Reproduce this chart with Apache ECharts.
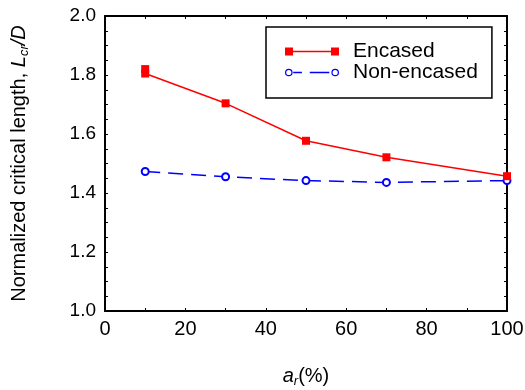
<!DOCTYPE html>
<html>
<head>
<meta charset="utf-8">
<script src="https://cdn.jsdelivr.net/npm/echarts@6/dist/echarts.min.js"></script>
<style>
  html, body { margin: 0; padding: 0; background: #fff; }
  #chart { width: 525px; height: 390px; }
</style>
</head>
<body>
<div id="chart"></div>
<script>
// area ratio a_r (%)
const arValues = [10, 30, 50, 70, 100];
// Normalized critical length Lcr/D
const encased = [1.805, 1.704, 1.577, 1.521, 1.457];
const encasedExtra = [10, 1.82]; // second marker at a_r = 10
const nonEncased = [1.473, 1.455, 1.442, 1.436, 1.442];
const xTicks = [0, 20, 40, 60, 80, 100];
const yTicks = [1.0, 1.2, 1.4, 1.6, 1.8, 2.0];

const font = 'Liberation Sans, Arial, sans-serif';
const chart = echarts.init(document.getElementById('chart'));

// legend icons: marker - line - marker, like the original
const iconEncased = 'path://M0 0h8v8h-8z M46 0h8v8h-8z M8 3.3h38v1.4h-38z';
const iconNonEncased = 'path://M1.3 4a3.7 3.7 0 1 0 7.4 0a3.7 3.7 0 1 0 -7.4 0z M2.5 4a2.5 2.5 0 1 1 5 0a2.5 2.5 0 1 1 -5 0z' +
  ' M9.3 3.3h8.4v1.4h-8.4z M25.3 3.3h19v1.4h-19z' +
  ' M46.3 4a3.7 3.7 0 1 0 7.4 0a3.7 3.7 0 1 0 -7.4 0z M47.5 4a2.5 2.5 0 1 1 5 0a2.5 2.5 0 1 1 -5 0z';

const axisCommon = {
  type: 'value',
  axisLine: { show: true, onZero: false, lineStyle: { color: '#000', width: 2 } },
  axisTick: { show: true, inside: true, length: 3, lineStyle: { color: '#000', width: 1 } },
  minorTick: { show: true, length: 3, lineStyle: { color: '#000', width: 1 } },
  splitLine: { show: false }
};

const richTitle = {
  i: { fontSize: 20, fontStyle: 'italic', fontFamily: font, color: '#000' },
  s: { fontSize: 13, fontStyle: 'italic', fontFamily: font, color: '#000', verticalAlign: 'bottom', padding: [10, 0, 0, 0] }
};

chart.setOption({
  animation: false,
  textStyle: { fontFamily: font },
  grid: { left: 105, right: 18, top: 16, bottom: 79, outerBoundsMode: 'none' },
  legend: {
    orient: 'vertical',
    left: 266,
    top: 27,
    padding: [14, 14, 15, 19],
    borderColor: '#000',
    borderWidth: 1.5,
    itemWidth: 54,
    itemHeight: 8,
    itemGap: 0,
    textStyle: { fontSize: 21, color: '#000', fontFamily: font, padding: [0, 0, 0, 9] },
    data: [
      { name: 'Encased', icon: iconEncased, itemStyle: { color: '#ff0000', borderWidth: 0 } },
      { name: 'Non-encased', icon: iconNonEncased, itemStyle: { color: '#0000ff', borderWidth: 0 } }
    ]
  },
  xAxis: [
    Object.assign({}, axisCommon, {
      min: xTicks[0], max: xTicks[xTicks.length - 1], interval: 20,
      minorTick: Object.assign({}, axisCommon.minorTick, { splitNumber: 2 }),
      axisLabel: { fontSize: 20, color: '#000', margin: 8 },
      name: '{i|a}{s|r}{n|(%)}',
      nameLocation: 'middle',
      nameGap: 54,
      nameTextStyle: {
        fontSize: 20, color: '#000',
        rich: Object.assign({ n: { fontSize: 20, fontFamily: font, color: '#000' } }, richTitle)
      }
    }),
    Object.assign({}, axisCommon, {
      position: 'top', min: 0, max: 100, interval: 20,
      minorTick: Object.assign({}, axisCommon.minorTick, { splitNumber: 2 }),
      axisLabel: { show: false }
    })
  ],
  yAxis: [
    Object.assign({}, axisCommon, {
      min: yTicks[0], max: yTicks[yTicks.length - 1], interval: 0.2,
      minorTick: Object.assign({}, axisCommon.minorTick, { splitNumber: 4 }),
      axisLabel: { fontSize: 19, color: '#000', margin: 9, formatter: v => v.toFixed(1) },
      name: '{n|Normalized critical length, }{i|L}{s|cr}{i|/D}',
      nameLocation: 'middle',
      nameGap: 74,
      nameTextStyle: {
        fontSize: 20, color: '#000',
        rich: Object.assign({ n: { fontSize: 20, fontFamily: font, color: '#000' } }, richTitle)
      }
    }),
    Object.assign({}, axisCommon, {
      position: 'right', min: 1.0, max: 2.0, interval: 0.2,
      minorTick: Object.assign({}, axisCommon.minorTick, { splitNumber: 4 }),
      axisLabel: { show: false }
    })
  ],
  series: [
    {
      name: 'Encased',
      type: 'line',
      data: [encasedExtra].concat(arValues.map((x, i) => [x, encased[i]])),
      symbol: 'rect',
      symbolSize: 8,
      itemStyle: { color: '#ff0000' },
      lineStyle: { color: '#ff0000', width: 1.5 },
      z: 3
    },
    {
      name: 'Non-encased',
      type: 'line',
      data: arValues.map((x, i) => [x, nonEncased[i]]),
      symbol: 'emptyCircle',
      symbolSize: 7,
      itemStyle: { color: '#0000ff', borderWidth: 1.2 },
      lineStyle: { color: '#0000ff', width: 1.5, type: [15, 8] },
      z: 2
    }
  ]
});
</script>
</body>
</html>
